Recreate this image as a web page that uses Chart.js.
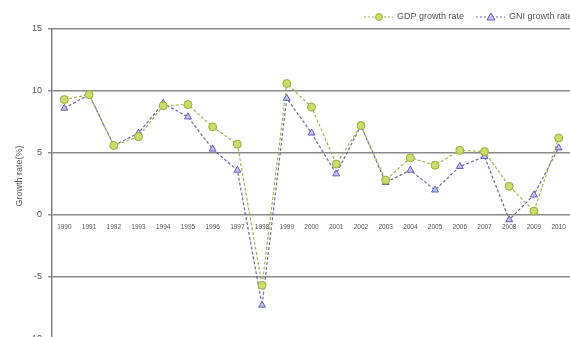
<!DOCTYPE html>
<html>
<head>
<meta charset="utf-8">
<script src="https://cdn.jsdelivr.net/npm/chart.js@4"></script>
<style>
  html, body { margin: 0; padding: 0; background: #fff; overflow: hidden; }
  #wrap { width: 570px; height: 337px; overflow: hidden; position: relative; }
  #box { width: 576px; height: 350px; position: absolute; left: 0; top: 0; }
</style>
</head>
<body>
<div id="wrap"><div id="box"><canvas id="c"></canvas></div></div>
<script>
// Annual growth rates (%), 1990-2010
const years = ['1990','1991','1992','1993','1994','1995','1996','1997','1998','1999','2000',
               '2001','2002','2003','2004','2005','2006','2007','2008','2009','2010'];
const gdpGrowth = [9.3, 9.7, 5.6, 6.3, 8.8, 8.9, 7.1, 5.7, -5.7, 10.6, 8.7,
                   4.1, 7.2, 2.8, 4.6, 4.0, 5.2, 5.1, 2.3, 0.3, 6.2];
const gniGrowth = [8.6, 9.7, 5.6, 6.6, 9.0, 7.9, 5.3, 3.6, -7.3, 9.4, 6.6,
                   3.3, 7.2, 2.6, 3.6, 2.0, 3.9, 4.7, -0.4, 1.6, 5.4];
const yTicks = [15, 10, 5, 0, -5, -10];
const yTitle = 'Growth rate(%)';

const FONT = '"Liberation Sans", Arial, sans-serif';

// Axis title and a small legend in the top-right corner (dashed line with marker, then label)
const decorations = {
  id: 'decorations',
  afterDraw(chart) {
    const ctx = chart.ctx;
    ctx.save();

    // rotated y-axis title
    ctx.translate(20, 176);
    ctx.rotate(-Math.PI / 2);
    ctx.fillStyle = '#555';
    ctx.font = '9px ' + FONT;
    ctx.textAlign = 'center';
    ctx.textBaseline = 'middle';
    ctx.fillText(yTitle, 0, 0);
    ctx.setTransform(1, 0, 0, 1, 0, 0);

    const y = 17;
    const items = [
      { ds: chart.data.datasets[0], x: 364 },
      { ds: chart.data.datasets[1], x: 476 }
    ];
    items.forEach(({ ds, x }) => {
      const mx = x + 15;
      ctx.strokeStyle = ds.borderColor;
      ctx.lineWidth = 1;
      ctx.setLineDash([2, 2]);
      ctx.beginPath();
      ctx.moveTo(x, y);
      ctx.lineTo(x + 29, y);
      ctx.stroke();
      ctx.setLineDash([]);
      ctx.fillStyle = ds.pointBackgroundColor;
      ctx.strokeStyle = ds.pointBorderColor;
      ctx.beginPath();
      if (ds.pointStyle === 'circle') {
        ctx.arc(mx, y, 3.5, 0, Math.PI * 2);
      } else {
        ctx.moveTo(mx, y - 4);
        ctx.lineTo(mx + 4, y + 3);
        ctx.lineTo(mx - 4, y + 3);
        ctx.closePath();
      }
      ctx.fill();
      ctx.stroke();
      ctx.fillStyle = '#555';
      ctx.font = '9px ' + FONT;
      ctx.textBaseline = 'middle';
      ctx.textAlign = 'left';
      ctx.fillText(ds.label, x + 33, y);
    });
    ctx.restore();
  }
};

new Chart(document.getElementById('c'), {
  type: 'line',
  data: {
    labels: years,
    datasets: [
      {
        label: 'GDP growth rate',
        data: gdpGrowth,
        borderColor: '#a4b24a',
        borderWidth: 1.2,
        borderDash: [3, 2],
        pointStyle: 'circle',
        pointRadius: 4,
        pointBackgroundColor: '#c9dc6e',
        pointBorderColor: '#9aae3a',
        pointBorderWidth: 1,
        tension: 0
      },
      {
        label: 'GNI growth rate',
        data: gniGrowth,
        borderColor: '#6a6aa8',
        borderWidth: 1.2,
        borderDash: [3, 2],
        pointStyle: 'triangle',
        pointRadius: 4,
        pointBackgroundColor: '#c2c2ee',
        pointBorderColor: '#6060b8',
        pointBorderWidth: 1,
        tension: 0
      }
    ]
  },
  options: {
    responsive: true,
    maintainAspectRatio: false,
    animation: false,
    layout: { padding: { top: 29, bottom: 10, left: 0, right: 0 } },
    plugins: {
      legend: { display: false },
      tooltip: { enabled: false }
    },
    scales: {
      x: {
        position: { y: 0 },
        offset: true,
        grid: { display: false, drawTicks: false },
        border: { display: false },
        ticks: {
          color: '#555',
          font: { size: 6.5, family: FONT },
          padding: 9,
          maxRotation: 0,
          autoSkip: false
        }
      },
      y: {
        min: -10,
        max: 15,
        afterBuildTicks(scale) {
          scale.ticks = yTicks.map(v => ({ value: v }));
        },
        afterFit(scale) { scale.width = 52; },
        grid: { color: '#8a8a8a', lineWidth: 1.4, tickLength: 4, tickColor: '#8a8a8a' },
        border: { display: true, color: '#777', width: 1.4 },
        ticks: {
          color: '#555',
          font: { size: 9, family: FONT },
          padding: 6
        }
      }
    }
  },
  plugins: [decorations]
});
</script>
</body>
</html>
